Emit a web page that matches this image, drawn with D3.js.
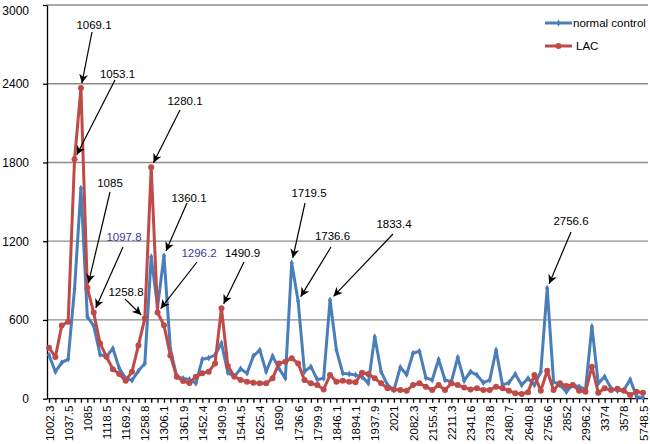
<!DOCTYPE html>
<html><head><meta charset="utf-8">
<script src="https://cdn.jsdelivr.net/npm/d3@7"></script>
<style>
html,body{margin:0;padding:0;background:#fff;}
svg{display:block;font-family:"Liberation Sans",Arial,sans-serif;}
</style></head>
<body>
<svg id="chart" width="650" height="444"></svg>
<script>
// ---------------- data ----------------
const tickLabels = ["1002.3","1037.5","1085","1118.5","1169.2","1258.8","1306.1","1361.9","1452.4","1490.9","1544.5","1625.4","1690","1736.6","1799.9","1846.1","1894.1","1937.9","2021","2082.3","2155.4","2211.3","2341.6","2378.8","2480.7","2640.8","2756.6","2852","2996.2","3374","3578","5748.5"];
const labelStep = 3;
const normalControl = [333,206,275,302,837,1604,625,554,337,320,383,232,155,140,212,269,1082,700,1090,380,168,155,147,117,300,310,333,424,200,168,228,193,325,371,206,325,231,155,1035,745,206,244,147,155,752,371,193,188,180,168,117,473,206,104,66,239,184,346,362,160,142,300,142,130,315,137,206,180,122,142,371,104,122,188,104,155,104,206,841,130,104,53,104,92,71,551,117,168,79,61,66,147,15,10];
const lac = [389,318,558,587,1825,2367,845,656,421,320,225,188,136,206,406,612,1764,656,560,330,168,135,120,168,193,206,269,689,250,170,142,130,122,117,117,155,269,282,308,269,142,117,104,71,180,130,137,130,125,198,188,155,117,79,71,66,61,104,117,92,66,104,66,117,104,86,71,79,66,66,92,79,61,41,36,50,180,61,213,66,117,97,104,61,53,244,46,79,66,75,61,28,53,46];
const seriesNames = ["normal control","LAC"];
const yTicks = [0,600,1200,1800,2400,3000];
const annotationLabels = ["1069.1","1053.1","1280.1","1085","1360.1","1097.8","1258.8","1296.2","1490.9","1719.5","1736.6","1833.4","2756.6"];
const annotationSeries = [1,1,1,1,0,1,1,1,1,0,0,0,0];
const annotationIndex = [5,4,16,6,18,7,15,17,27,38,39,44,78];

// ---------------- layout ----------------
const annLayout = [
  {tx:94, ty:25, sx:92, sy:32},
  {tx:117.5, ty:74, sx:115, sy:80},
  {tx:185, ty:101, sx:180, sy:110},
  {tx:110, ty:183, sx:110, sy:192},
  {tx:189, ty:198, sx:187, sy:203},
  {tx:124, ty:237, sx:123, sy:247, color:"#3b3b96"},
  {tx:126, ty:292, sx:125, sy:299},
  {tx:199, ty:253, sx:197, sy:262, color:"#3b3b96"},
  {tx:242.5, ty:253, sx:244, sy:262},
  {tx:309, ty:193, sx:305, sy:203},
  {tx:332.5, ty:236, sx:331, sy:247},
  {tx:394, ty:224, sx:393, sy:234},
  {tx:571, ty:221, sx:571, sy:232}
];
const colors = ["#4a7ebb","#be4b48"];
const n = normalControl.length;
const svg = d3.select("#chart");

const x = d3.scalePoint().domain(d3.range(n)).range([49, 643]);
const y = d3.scaleLinear().domain([0, 3000]).range([398.7, 5]);

// gridlines
svg.append("g").selectAll("line").data(yTicks.filter(d => d > 0)).join("line")
  .attr("x1", 47).attr("x2", 648)
  .attr("y1", d => y(d)).attr("y2", d => y(d))
  .attr("stroke", "#8c8c8c").attr("stroke-width", 1.3);

// y axis
const yAxis = svg.append("g").attr("transform", "translate(47,0)")
  .call(d3.axisLeft(y).tickValues(yTicks).tickSize(4).tickSizeOuter(0).tickPadding(14).tickFormat(d3.format("d")));
yAxis.selectAll("text").attr("font-size", 12).attr("fill", "#000").attr("font-family", "Liberation Sans, Arial, sans-serif")
  .attr("dy", d => d === 3000 ? "0.75em" : "0.32em");
yAxis.selectAll("line,path").attr("stroke", "#000").attr("stroke-width", 1.3);

// x axis
const xAxis = svg.append("g").attr("transform", "translate(0," + y(0) + ")")
  .call(d3.axisBottom(x).tickSize(4).tickSizeOuter(0)
    .tickFormat(i => i % labelStep === 0 ? tickLabels[i / labelStep] : ""));
xAxis.select("path").attr("d", "M47,0H648");
xAxis.selectAll("line,path").attr("stroke", "#000").attr("stroke-width", 1.3);
xAxis.selectAll("text")
  .attr("transform", "rotate(-90)")
  .attr("x", -7).attr("y", 0).attr("dy", "0.35em")
  .attr("text-anchor", "end")
  .attr("font-size", 11.5).attr("fill", "#000")
  .attr("font-family", "Liberation Sans, Arial, sans-serif");

// series
const allSeries = [normalControl, lac];
const line = d3.line().x((d, i) => x(i)).y(d => y(d));
allSeries.forEach((vals, s) => {
  const g = svg.append("g");
  g.append("path").datum(vals).attr("d", line)
    .attr("fill", "none").attr("stroke", colors[s]).attr("stroke-width", 3)
    .attr("stroke-linejoin", "round");
  if (s === 0) {
    g.selectAll("path.m").data(vals).join("path").attr("class", "m")
      .attr("d", d3.symbol(d3.symbolDiamond, 14))
      .attr("transform", (d, i) => `translate(${x(i)},${y(d)})`)
      .attr("fill", colors[s]);
  } else {
    g.selectAll("circle").data(vals).join("circle")
      .attr("cx", (d, i) => x(i)).attr("cy", d => y(d)).attr("r", 3)
      .attr("fill", colors[s]);
  }
});

// legend
const leg = svg.append("g");
seriesNames.forEach((name, s) => {
  const ly = 23 + s * 23;
  leg.append("line").attr("x1", 545).attr("x2", 572).attr("y1", ly).attr("y2", ly)
    .attr("stroke", colors[s]).attr("stroke-width", 3);
  if (s === 0) {
    leg.append("path").attr("d", d3.symbol(d3.symbolDiamond, 14))
      .attr("transform", `translate(558.5,${ly})`).attr("fill", colors[s]);
  } else {
    leg.append("circle").attr("cx", 558.5).attr("cy", ly).attr("r", 3).attr("fill", colors[s]);
  }
  leg.append("text").attr("x", s === 0 ? 573 : 576).attr("y", ly).attr("dy", "0.35em")
    .attr("font-size", 11.5).attr("fill", "#000").text(name);
});

// annotations
const defs = svg.append("defs");
defs.append("marker").attr("id", "arrow").attr("viewBox", "0 0 10 10")
  .attr("refX", 10).attr("refY", 5).attr("markerWidth", 9).attr("markerHeight", 9)
  .attr("markerUnits", "userSpaceOnUse").attr("orient", "auto")
  .append("path").attr("d", "M0,0L10,5L0,10L3,5Z").attr("fill", "#000");
const ann = svg.append("g");
annotationLabels.forEach((lab, k) => {
  const L = annLayout[k];
  const vals = allSeries[annotationSeries[k]];
  const px = x(annotationIndex[k]), py = y(vals[annotationIndex[k]]);
  const dx = L.sx - px, dy = L.sy - py, len = Math.hypot(dx, dy);
  const tipx = px + dx / len * 5, tipy = py + dy / len * 5;
  ann.append("line").attr("x1", L.sx).attr("y1", L.sy).attr("x2", tipx).attr("y2", tipy)
    .attr("stroke", "#000").attr("stroke-width", 1.2).attr("marker-end", "url(#arrow)");
  ann.append("text").attr("x", L.tx).attr("y", L.ty).attr("dy", "0.35em")
    .attr("text-anchor", "middle").attr("font-size", 11.5)
    .attr("fill", L.color || "#000").text(lab);
});
</script>
</body></html>
